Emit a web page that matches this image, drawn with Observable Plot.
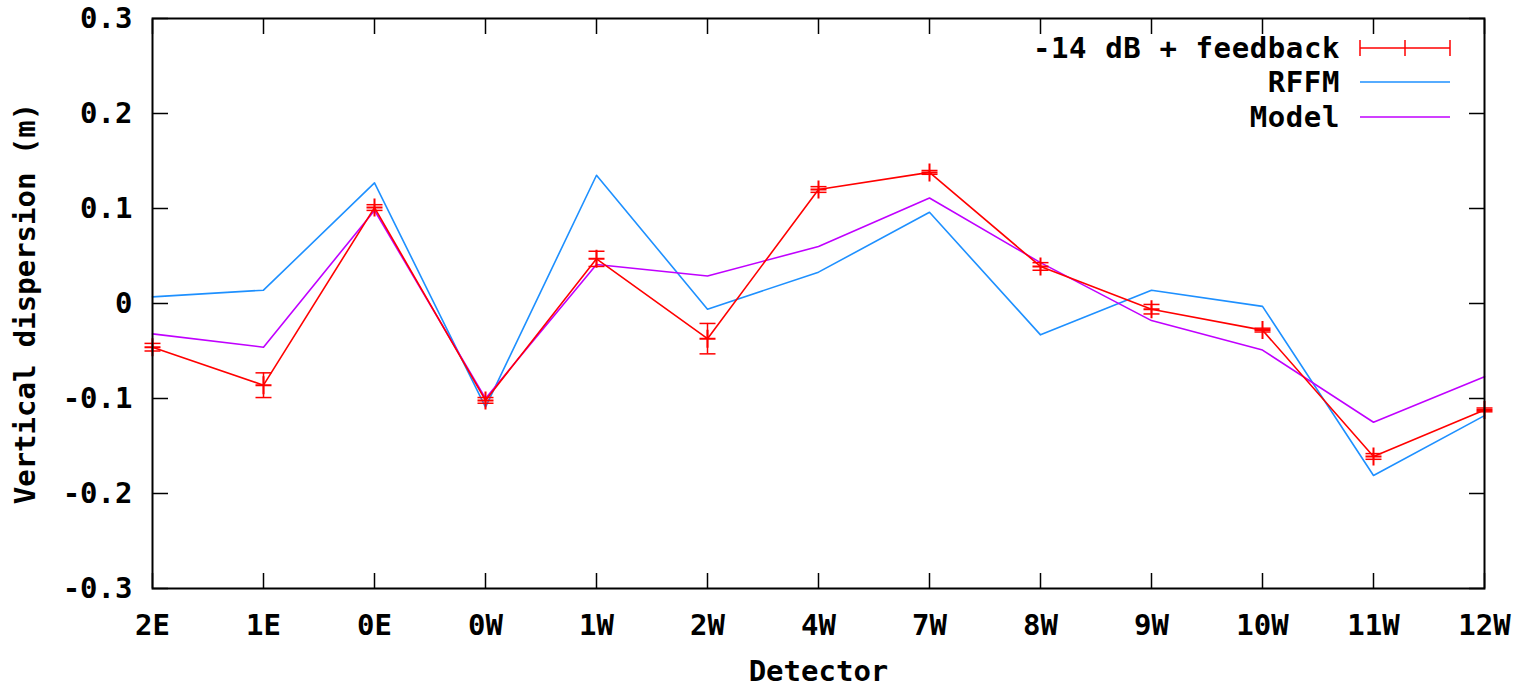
<!DOCTYPE html>
<html><head><meta charset="utf-8">
<script src="https://cdn.jsdelivr.net/npm/d3@7"></script>
<script src="https://cdn.jsdelivr.net/npm/@observablehq/plot@0.6"></script>
<style>
body{margin:0;background:#fff}
#wrap{position:relative;width:1530px;height:687px}
#legend{position:absolute;left:0;top:0;pointer-events:none}
</style>
</head><body><div id="wrap"></div>
<script>
const detectors = ["2E","1E","0E","0W","1W","2W","4W","7W","8W","9W","10W","11W","12W"];
const feedback    = [-0.046,-0.086,0.101,-0.102,0.047,-0.037,0.120,0.138,0.039,-0.006,-0.028,-0.161,-0.112];
const feedbackErr = [0.004,0.013,0.003,0.003,0.008,0.016,0.003,0.002,0.004,0.005,0.002,0.003,0.002];
const rffm  = [0.007,0.014,0.127,-0.109,0.135,-0.006,0.033,0.096,-0.033,0.014,-0.003,-0.181,-0.118];
const model = [-0.032,-0.046,0.098,-0.100,0.041,0.029,0.060,0.111,0.043,-0.018,-0.049,-0.125,-0.077];
const yTicks = [-0.3,-0.2,-0.1,0,0.1,0.2,0.3];
const seriesNames = ["-14 dB + feedback","RFFM","Model"];
const colors = ["#ff0000","#1e90ff","#c000ff"];

const fbRows = detectors.map((d,i)=>({detector:d, value:feedback[i], err:feedbackErr[i]}));
const rffmRows = detectors.map((d,i)=>({detector:d, value:rffm[i]}));
const modelRows = detectors.map((d,i)=>({detector:d, value:model[i]}));

const capSym = {draw(ctx){ctx.moveTo(-8,0);ctx.lineTo(8,0);}};
const plusSym = {draw(ctx){ctx.moveTo(-8,0);ctx.lineTo(8,0);ctx.moveTo(0,-9);ctx.lineTo(0,9);}};
const fmt = d => d === 0 ? "0" : d.toFixed(1);
const font = "'DejaVu Sans Mono', monospace";

const W = 1530, H = 687, mL = 152, mR = 46, mT = 18, mB = 99;

const chart = Plot.plot({
  width: W, height: H,
  marginLeft: mL, marginRight: mR, marginTop: mT, marginBottom: mB,
  style: {fontFamily: font, fontSize: "29px", fontWeight: "bold", color: "#000", background: "#fff"},
  x: {type: "point", domain: detectors, padding: 0},
  y: {domain: [-0.3, 0.3]},
  marks: [
    Plot.axisY({ticks: yTicks, tickSize: 0, tickPadding: 20, tickFormat: fmt,
      label: "Vertical dispersion (m)", labelAnchor: "center", labelOffset: 138, labelArrow: "none"}),
    Plot.axisY({anchor: "left", ticks: yTicks, tickSize: -16, tickFormat: () => "", label: null, strokeWidth: 1.5}),
    Plot.axisY({anchor: "right", ticks: yTicks, tickSize: -16, tickFormat: () => "", label: null, strokeWidth: 1.5}),
    Plot.axisX({tickSize: 0, tickPadding: 26, label: "Detector", labelAnchor: "center", labelOffset: 92, labelArrow: "none"}),
    Plot.axisX({anchor: "bottom", tickSize: -15, tickFormat: () => "", label: null, strokeWidth: 1.5}),
    Plot.axisX({anchor: "top", tickSize: -15, tickFormat: () => "", label: null, strokeWidth: 1.5}),
    Plot.line(rffmRows, {x: "detector", y: "value", stroke: colors[1], strokeWidth: 1.6}),
    Plot.line(modelRows, {x: "detector", y: "value", stroke: colors[2], strokeWidth: 1.6}),
    Plot.line(fbRows, {x: "detector", y: "value", stroke: colors[0], strokeWidth: 1.6}),
    Plot.ruleX(fbRows, {x: "detector", y1: d => d.value - d.err, y2: d => d.value + d.err, stroke: colors[0], strokeWidth: 1.5}),
    Plot.dot(fbRows, {x: "detector", y: d => d.value - d.err, symbol: capSym, stroke: colors[0], strokeWidth: 1.5}),
    Plot.dot(fbRows, {x: "detector", y: d => d.value + d.err, symbol: capSym, stroke: colors[0], strokeWidth: 1.5}),
    Plot.dot(fbRows, {x: "detector", y: "value", symbol: plusSym, stroke: colors[0], strokeWidth: 2}),
    Plot.frame({stroke: "#000", strokeWidth: 2})
  ]
});
const wrap = document.getElementById("wrap");
wrap.appendChild(chart);

// legend overlay
const ns = "http://www.w3.org/2000/svg";
const lg = document.createElementNS(ns, "svg");
lg.setAttribute("id","legend"); lg.setAttribute("width", W); lg.setAttribute("height", H);
const rowsY = [48, 82, 117];
seriesNames.forEach((name, i) => {
  const y = rowsY[i];
  const t = document.createElementNS(ns, "text");
  t.setAttribute("x", 1340); t.setAttribute("y", y);
  t.setAttribute("text-anchor", "end"); t.setAttribute("dominant-baseline", "central");
  t.setAttribute("font-family", font); t.setAttribute("font-size", 29); t.setAttribute("font-weight", "bold");
  t.setAttribute("letter-spacing", "0.6");
  t.textContent = name; lg.appendChild(t);
  const l = document.createElementNS(ns, "line");
  l.setAttribute("x1", 1360); l.setAttribute("x2", 1450); l.setAttribute("y1", y); l.setAttribute("y2", y);
  l.setAttribute("stroke", colors[i]); l.setAttribute("stroke-width", 1.5); lg.appendChild(l);
  if (i === 0) {
    [1360, 1405, 1450].forEach(x => {
      const v = document.createElementNS(ns, "line");
      v.setAttribute("x1", x); v.setAttribute("x2", x); v.setAttribute("y1", y - 8); v.setAttribute("y2", y + 8);
      v.setAttribute("stroke", colors[i]); v.setAttribute("stroke-width", 1.5); lg.appendChild(v);
    });
  }
});
wrap.appendChild(lg);
</script>
</body></html>
